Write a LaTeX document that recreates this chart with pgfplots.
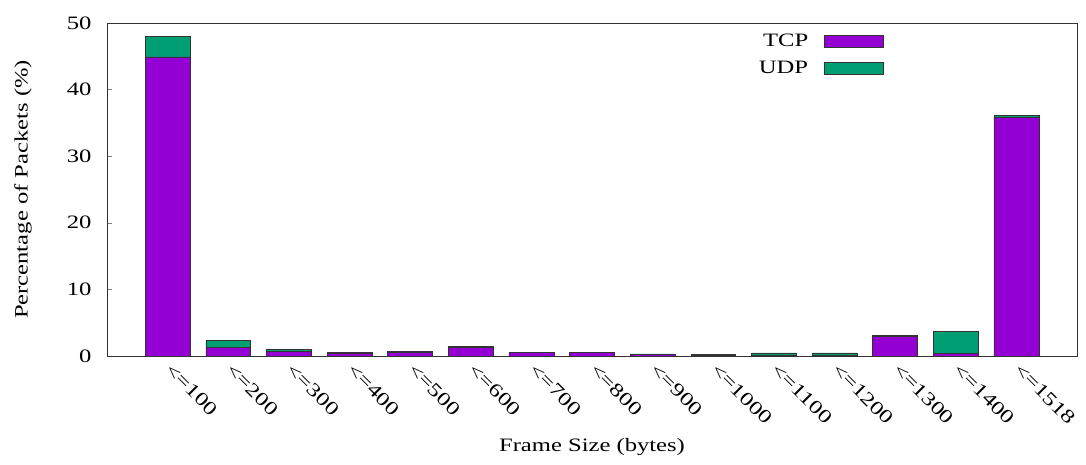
\documentclass[border=0pt]{standalone}
\usepackage{pgfplots}
\pgfplotsset{compat=1.18}
\usepackage{fontspec}
\setmainfont{Liberation Serif}[FakeStretch=1.3]
\definecolor{tcpc}{HTML}{9400D3}
\definecolor{udpc}{HTML}{009E73}
\begin{document}
\fontsize{19}{22}\selectfont
\begin{tikzpicture}[x=1bp,y=1bp]
\useasboundingbox (0,0) rectangle (1086,465);
\begin{axis}[
  at={(107bp,109bp)}, anchor=south west,
  scale only axis,
  width=970bp, height=333bp,
  ybar stacked,
  bar width=0.74,
  xmin=-1, xmax=15,
  ymin=0, ymax=50,
  ytick={0,10,20,30,40,50},
  ytick pos=left,
  tick align=inside,
  major tick length=5bp,
  xtick=data,
  xtick style={draw=none},
  xticklabels={<=100,<=200,<=300,<=400,<=500,<=600,<=700,<=800,<=900,<=1000,<=1100,<=1200,<=1300,<=1400,<=1518},
  xticklabel style={xshift=6bp, yshift=3bp, rotate=-45, anchor=north west, font=\fontsize{19}{22}\selectfont},
  yticklabel style={font=\fontsize{19}{22}\selectfont, xshift=-9bp},
  /pgf/number format/assume math mode=true,
  xlabel={Frame Size (bytes)},
  ylabel={Percentage of Packets (\%)},
  label style={font=\fontsize{19}{22}\selectfont},
  every axis x label/.style={at={(rel axis cs:0.5,0)}, anchor=base, yshift=-96bp},
  every axis y label/.style={at={(rel axis cs:0,0.5)}, xshift=-84bp, rotate=90, anchor=center},
  axis line style={line width=0.8pt, black!80},
  legend style={draw=none, fill=none, at={(rel axis cs:0.801,0.975)}, anchor=north east,
    font=\fontsize{19}{22}\selectfont, row sep=8bp, inner sep=0pt},
  legend cell align=right,
  legend plot pos=right,
  legend image code/.code={\path (0bp,0bp); \draw[#1, draw=black!80] (14bp,-6bp) rectangle (73bp,6bp);},
]
\addplot[fill=tcpc, draw=black!80, line width=0.6pt] coordinates {
(0,44.9) (1,1.3) (2,0.7) (3,0.45) (4,0.6) (5,1.35) (6,0.5) (7,0.5) (8,0.25) (9,0.1) (10,0.1) (11,0.1) (12,2.95) (13,0.4) (14,35.8)};
\addlegendentry{TCP}
\addplot[fill=udpc, draw=black!80, line width=0.6pt] coordinates {
(0,3.1) (1,1.05) (2,0.3) (3,0.1) (4,0.1) (5,0.05) (6,0.05) (7,0.05) (8,0.05) (9,0.15) (10,0.35) (11,0.35) (12,0.2) (13,3.25) (14,0.3)};
\addlegendentry{UDP}
\end{axis}
\end{tikzpicture}
\end{document}
